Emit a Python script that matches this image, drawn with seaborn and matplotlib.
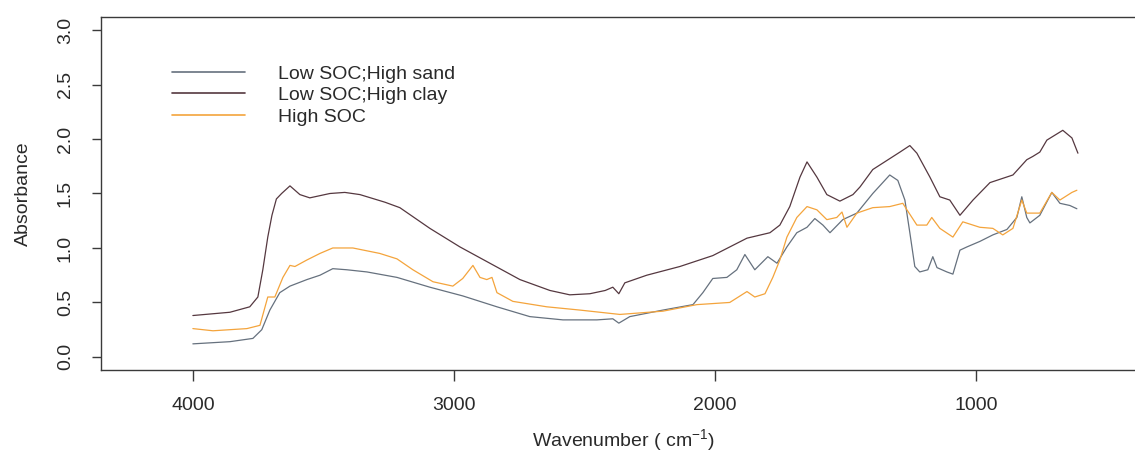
import numpy as np
import pandas as pd
import matplotlib
matplotlib.use("Agg")
import matplotlib.pyplot as plt
import seaborn as sns

# ---------------- data ----------------
series_names = ["Low SOC;High sand", "Low SOC;High clay", "High SOC"]

sand_wn = [4000, 3858, 3770, 3736, 3705, 3667, 3628, 3563, 3513, 3464, 3410, 3333,
           3218, 3092, 2966, 2835, 2709, 2582, 2452, 2391, 2368, 2326, 2199, 2084,
           2046, 2008, 1954, 1916, 1885, 1847, 1797, 1762, 1724, 1686, 1647, 1617,
           1586, 1559, 1510, 1456, 1395, 1330, 1299, 1272, 1253, 1234, 1215, 1184,
           1165, 1149, 1111, 1088, 1061, 1034, 985, 935, 881, 843, 824, 805, 793,
           755, 709, 678, 640, 613]
sand_abs = [0.12, 0.14, 0.17, 0.25, 0.43, 0.59, 0.65, 0.71, 0.75, 0.81, 0.80, 0.78,
            0.73, 0.64, 0.56, 0.46, 0.37, 0.34, 0.34, 0.35, 0.31, 0.37, 0.43, 0.48,
            0.59, 0.72, 0.73, 0.80, 0.94, 0.80, 0.92, 0.86, 1.01, 1.14, 1.19, 1.27,
            1.21, 1.14, 1.26, 1.32, 1.50, 1.67, 1.62, 1.44, 1.14, 0.83, 0.78, 0.80,
            0.92, 0.82, 0.78, 0.76, 0.98, 1.01, 1.06, 1.12, 1.17, 1.28, 1.47, 1.28,
            1.23, 1.30, 1.51, 1.41, 1.39, 1.36]

clay_wn = [4000, 3858, 3782, 3751, 3732, 3713, 3697, 3680, 3660, 3628, 3590, 3552,
           3475, 3418, 3360, 3264, 3207, 3092, 2977, 2862, 2747, 2632, 2556, 2479,
           2420, 2391, 2368, 2345, 2261, 2134, 2008, 1877, 1789, 1751, 1713, 1674,
           1647, 1609, 1571, 1521, 1471, 1444, 1395, 1291, 1253, 1226, 1176, 1138,
           1100, 1061, 1011, 946, 858, 805, 782, 755, 728, 667, 632, 609]
clay_abs = [0.38, 0.41, 0.46, 0.55, 0.80, 1.10, 1.30, 1.45, 1.50, 1.57, 1.49, 1.46,
            1.50, 1.51, 1.49, 1.42, 1.37, 1.18, 1.01, 0.86, 0.71, 0.61, 0.57, 0.58,
            0.61, 0.64, 0.58, 0.68, 0.75, 0.83, 0.93, 1.09, 1.14, 1.21, 1.38, 1.65,
            1.79, 1.65, 1.49, 1.43, 1.49, 1.56, 1.72, 1.88, 1.94, 1.87, 1.65, 1.47,
            1.44, 1.30, 1.44, 1.60, 1.67, 1.81, 1.84, 1.88, 1.99, 2.08, 2.01, 1.87]

soc_wn = [4000, 3923, 3793, 3743, 3713, 3686, 3655, 3628, 3609, 3563, 3513, 3464,
          3387, 3284, 3218, 3157, 3080, 3004, 2966, 2927, 2900, 2874, 2854, 2835,
          2774, 2644, 2517, 2364, 2199, 2069, 1943, 1877, 1847, 1808, 1778, 1751,
          1724, 1686, 1647, 1609, 1571, 1533, 1513, 1494, 1456, 1395, 1330, 1280,
          1264, 1226, 1188, 1169, 1138, 1088, 1050, 985, 935, 897, 858, 824, 805,
          755, 709, 678, 632, 613]
soc_abs = [0.26, 0.24, 0.26, 0.29, 0.55, 0.55, 0.73, 0.84, 0.83, 0.89, 0.95, 1.00,
           1.00, 0.95, 0.90, 0.80, 0.69, 0.65, 0.72, 0.84, 0.73, 0.71, 0.73, 0.59,
           0.51, 0.46, 0.43, 0.39, 0.42, 0.48, 0.50, 0.60, 0.55, 0.58, 0.73, 0.89,
           1.10, 1.28, 1.38, 1.35, 1.26, 1.28, 1.33, 1.19, 1.32, 1.37, 1.38, 1.41,
           1.35, 1.21, 1.21, 1.28, 1.18, 1.10, 1.24, 1.19, 1.18, 1.12, 1.18, 1.44,
           1.32, 1.32, 1.51, 1.44, 1.51, 1.53]

x_ticks = [4000, 3000, 2000, 1000]
y_ticks = [0.0, 0.5, 1.0, 1.5, 2.0, 2.5, 3.0]

colors = ["#66717e", "#553840", "#f4a43c"]

# ---------------- build table ----------------
frames = []
for name, wn, ab in zip(series_names, [sand_wn, clay_wn, soc_wn], [sand_abs, clay_abs, soc_abs]):
    frames.append(pd.DataFrame({"wn": wn, "abs": ab, "sample": name, "order": range(len(wn))}))
df = pd.concat(frames, ignore_index=True)

# ---------------- figure ----------------
sns.set_style("ticks")
plt.rcParams["font.family"] = ["Liberation Sans", "DejaVu Sans"]
plt.rcParams["mathtext.default"] = "regular"

W, H = 1135, 459
fig = plt.figure(figsize=(W / 100, H / 100), dpi=100)
ax_left, ax_right, ax_top, ax_bot = 101, 1145, 17, 370
ax = fig.add_axes([ax_left / W, 1 - ax_bot / H, (ax_right - ax_left) / W, (ax_bot - ax_top) / H])

sns.lineplot(data=df, x="wn", y="abs", hue="sample", units="sample", estimator=None,
             sort=False, palette=dict(zip(series_names, colors)), hue_order=series_names,
             linewidth=0.9, ax=ax, legend=True)

ax.set_xlim(4352, 352)
ax.set_ylim(-0.12, 3.12)
ax.set_xticks(x_ticks)
ax.set_xticklabels([str(v) for v in x_ticks])
ax.set_yticks(y_ticks)
ax.set_yticklabels([f"{v:.1f}" for v in y_ticks], rotation=90, va="center")

for s in ax.spines.values():
    s.set_color("#3a3a3a")
    s.set_linewidth(1.0)
    s.set_visible(True)

ax.tick_params(axis="x", length=8, width=1.0, color="#3a3a3a", pad=11.5,
               labelsize=14, labelcolor="#2a2a2a")
ax.tick_params(axis="y", length=6.5, width=1.0, color="#3a3a3a", pad=13,
               labelsize=14, labelcolor="#2a2a2a")

ax.set_xlabel("Wavenumber ( cm$^{-1}$)", fontsize=14, color="#2a2a2a")
ax.set_ylabel("Absorbance", fontsize=14, color="#2a2a2a")
ax.xaxis.set_label_coords((623 - ax_left) / (ax_right - ax_left), -(440 - ax_bot) / (ax_bot - ax_top))
ax.yaxis.set_label_coords(-(ax_left - 23) / (ax_right - ax_left), 0.5)
ax.xaxis.label.set_va("center")
ax.yaxis.label.set_va("center")

handles, labels = ax.get_legend_handles_labels()
leg = ax.legend(handles, labels, loc="upper left",
                bbox_to_anchor=(172 / W, 1 - 65 / H), bbox_transform=fig.transFigure,
                frameon=False, fontsize=14, handlelength=3.76, handletextpad=1.7,
                labelspacing=0.2, borderpad=0, borderaxespad=0)
for t in leg.get_texts():
    t.set_color("#2a2a2a")
for lh in leg.get_lines():
    lh.set_linewidth(1.2)

fig.savefig("out.png", dpi=100, facecolor="white")
